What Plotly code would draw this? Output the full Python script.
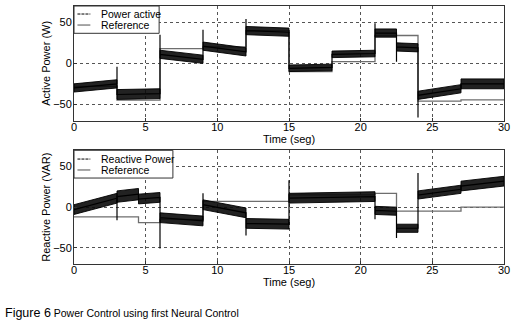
import plotly.graph_objects as go

# ---------------- data ----------------
# Active power panel: reference step signal
act_ref_t = [0, 3, 6, 9, 12, 15, 18, 21, 24, 27, 30]
act_ref_v = [-28, -45, 18, 20, 40, -10, 2, 34, -46, -44.5, -44.5]

# Active power measured signal, segment by segment
act_t0 = [0, 3, 6, 9, 12, 15, 18, 21, 22.5, 24, 27]
act_t1 = [3, 6, 9, 12, 15, 18, 21, 22.5, 24, 27, 30]
act_start = [-30, -38, 11, 21, 40, -6, 11, 37, 20, -39, -25]
act_end = [-25, -37, 5, 14, 38, -5, 12, 37, 19, -31, -25]
act_noise = [5, 6, 5, 5, 5, 4, 4, 5, 5, 5, 6]
act_spike = [None, -4, 35, 41, 54, None, None, 49, 2, -66, None]

# Reactive power panel: reference step signal
rea_ref_t = [0, 4.5, 6, 9, 15, 21, 22.5, 27, 30]
rea_ref_v = [-12, -19, -15, 7, 15, 17, -5, 0, 0]

# Reactive power measured signal, segment by segment
rea_t0 = [0, 3, 4.5, 6, 9, 12, 15, 21, 22.5, 24, 27]
rea_t1 = [3, 4.5, 6, 9, 12, 15, 21, 22.5, 24, 27, 30]
rea_start = [-3, 13, 10, -13, 3, -20, 11, -4, -26, 15, 26]
rea_end = [11, 16, 12, -17, -7, -21, 13, -5, -26, 22, 32]
rea_noise = [6, 7, 6, 6, 6, 6, 6, 5, 5, 5, 6]
rea_spike = [None, -16, None, -51, 17, -35, 33, -15, -38, 42, None]

x_ticks = [0, 5, 10, 15, 20, 25, 30]
y_ticks = [-50, 0, 50]

FONT = "Liberation Sans, Arial, sans-serif"
W, H = 526, 327
L, R, T, B = 74, 22, 6, 63
PH = H - T - B
top_dom = [(264 - 120.7) / PH, 1.0]
bot_dom = [0.0, (264 - 150.3) / PH]


def center_path(t0, t1, s, e, spk):
    xs, ys = [], []
    for a, b, v0, v1, sp in zip(t0, t1, s, e, spk):
        if sp is not None:
            xs.append(a); ys.append(sp)
        xs += [a, b]; ys += [v0, v1]
    return xs, ys


def band_path(t0, t1, s, e, hw):
    xs, ys = [], []
    for a, b, v0, v1, h in zip(t0, t1, s, e, hw):
        xs += [a, b, b, a, a, None]
        ys += [v0 + h, v1 + h, v1 - h, v0 - h, v0 + h, None]
    return xs, ys


fig = go.Figure()

panels = [
    ("x", "y", act_ref_t, act_ref_v, act_t0, act_t1, act_start, act_end, act_noise, act_spike),
    ("x2", "y2", rea_ref_t, rea_ref_v, rea_t0, rea_t1, rea_start, rea_end, rea_noise, rea_spike),
]
for xa, ya, rt, rv, t0, t1, s, e, hw, spk in panels:
    fig.add_trace(go.Scatter(x=rt, y=rv, mode="lines", line=dict(color="#6e6e6e", width=1.3, shape="hv"),
                             xaxis=xa, yaxis=ya, showlegend=False, hoverinfo="skip"))
    bx, by = band_path(t0, t1, s, e, hw)
    fig.add_trace(go.Scatter(x=bx, y=by, mode="lines", fill="toself", fillcolor="rgba(10,10,10,0.9)",
                             line=dict(color="rgba(0,0,0,0.9)", width=1), xaxis=xa, yaxis=ya,
                             showlegend=False, hoverinfo="skip"))
    cx, cy = center_path(t0, t1, s, e, spk)
    fig.add_trace(go.Scatter(x=cx, y=cy, mode="lines", line=dict(color="black", width=1.2),
                             xaxis=xa, yaxis=ya, showlegend=False, hoverinfo="skip"))

axis_common = dict(
    showline=True, mirror=True, linecolor="#333", linewidth=1,
    showgrid=True, griddash="dot", gridcolor="#555", gridwidth=1,
    zeroline=False, ticks="inside", ticklen=3, tickcolor="#333", automargin=False,
    tickfont=dict(family=FONT, size=11, color="black"),
)
xt = dict(text="Time (seg)", font=dict(family=FONT, size=11, color="black"), standoff=0)
fig.update_layout(
    width=W, height=H, margin=dict(l=L, r=R, t=T, b=B, autoexpand=False),
    paper_bgcolor="white", plot_bgcolor="white", showlegend=False,
    xaxis=dict(domain=[0, 1], anchor="y", range=[0, 30], tickvals=x_ticks, title=xt,
               ticklabelstandoff=-4, **axis_common),
    yaxis=dict(domain=top_dom, anchor="x", range=[-70, 70], tickvals=y_ticks,
               title=dict(text="Active Power (W)", font=dict(family=FONT, size=11, color="black"), standoff=0),
               ticklabelstandoff=-1, **axis_common),
    xaxis2=dict(domain=[0, 1], anchor="y2", range=[0, 30], tickvals=x_ticks, title=xt,
                ticklabelstandoff=-4, **axis_common),
    yaxis2=dict(domain=bot_dom, anchor="x2", range=[-70, 70], tickvals=y_ticks,
                title=dict(text="Reactive Power (VAR)", font=dict(family=FONT, size=11, color="black"), standoff=0),
                ticklabelstandoff=-1, **axis_common),
)

# manual legends (MATLAB-style boxes)
legends = [
    ("x domain", "y domain", 0.198, 0.762, 0.930, 0.834, "Power active"),
    ("x2 domain", "y2 domain", 0.230, 0.756, 0.923, 0.827, "Reactive Power"),
]
for xr, yr, bw, by0, r1, r2, name in legends:
    fig.add_shape(type="rect", xref=xr, yref=yr, x0=0, x1=bw, y0=by0, y1=1,
                  fillcolor="white", line=dict(color="#333", width=1), layer="above")
    fig.add_shape(type="line", xref=xr, yref=yr, x0=0.008, x1=0.038, y0=r1, y1=r1,
                  line=dict(color="black", width=1, dash="3px,1px"), layer="above")
    fig.add_shape(type="line", xref=xr, yref=yr, x0=0.008, x1=0.038, y0=r2, y1=r2,
                  line=dict(color="#777", width=1.3), layer="above")
    for yy, txt in [(r1, name), (r2, "Reference")]:
        fig.add_annotation(xref=xr, yref=yr, x=0.057, y=yy, text=txt, showarrow=False,
                           xanchor="left", yanchor="middle",
                           font=dict(family=FONT, size=10.5, color="black"))

fig.add_annotation(xref="paper", yref="paper", x=(3 - L) / (W - L - R), y=(264 - 313) / PH,
                   xanchor="left", yanchor="middle", showarrow=False,
                   text='<span style="font-size:12.5px">Figure 6</span> Power Control using first Neural Control',
                   font=dict(family=FONT, size=10.5, color="black"))

fig.write_html("out.html", config={"displayModeBar": False},
               post_script="document.body.style.margin='0';")
